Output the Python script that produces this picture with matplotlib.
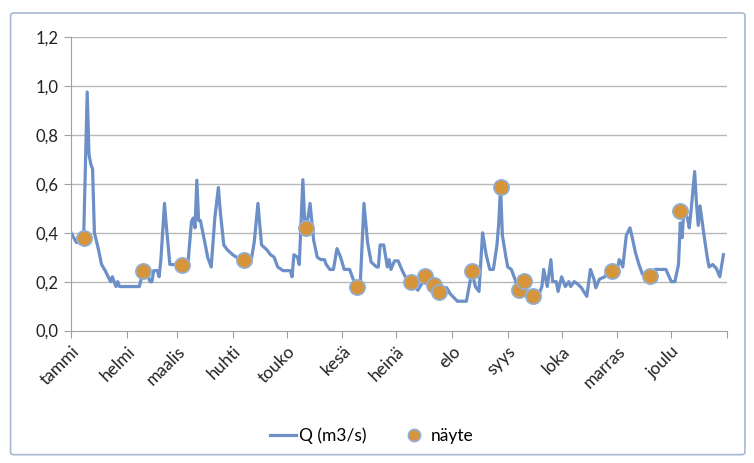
import matplotlib
matplotlib.use("Agg")
import matplotlib.pyplot as plt
from matplotlib.patches import FancyBboxPatch
from matplotlib.transforms import ScaledTranslation

plt.rcParams['font.family'] = ['Lato', 'DejaVu Sans']

# daily flow (day of year, m3/s)
q_day = [0, 3, 6, 7, 9, 10, 11, 12, 13, 15, 17, 19, 21, 22, 23, 24, 25, 26, 27, 38,
         40, 42, 44, 45, 46, 48, 49, 50, 52, 53, 55, 60, 62, 65, 67, 68, 69, 70, 71, 72,
         75, 76, 78, 80, 82, 83, 85, 87, 90, 92, 96, 100, 102, 104, 106, 109, 111, 113, 115, 118,
         122, 123, 124, 126, 127, 129, 130, 131, 133, 135, 137, 139, 141, 142, 144, 146, 148, 150, 152, 155,
         157, 159, 161, 163, 165, 167, 170, 171, 172, 174, 176, 177, 178, 180, 182, 184, 186, 189, 191, 193,
         195, 197, 199, 202, 205, 207, 209, 211, 213, 215, 220, 222, 223, 225, 227, 229, 231, 233, 235, 237,
         238, 239, 240, 242, 243, 245, 247, 249, 251, 252, 254, 257, 260, 262, 263, 265, 267, 268, 270, 271,
         273, 275, 277, 278, 280, 282, 284, 287, 289, 291, 292, 294, 297, 299, 301, 304, 305, 306, 307, 309,
         311, 312, 314, 316, 318, 322, 324, 325, 331, 334, 336, 338, 339, 340, 341, 343, 344, 345, 347, 348,
         349, 350, 352, 354, 355, 357, 359, 361, 363]
q_val = [0.40, 0.36, 0.365, 0.37, 0.975, 0.72, 0.68, 0.66, 0.40, 0.34, 0.27, 0.245, 0.215, 0.20, 0.22, 0.20, 0.18, 0.20, 0.18, 0.18,
         0.24, 0.24, 0.20, 0.20, 0.245, 0.245, 0.22, 0.29, 0.52, 0.43, 0.27, 0.27, 0.265, 0.27, 0.445, 0.46, 0.42, 0.615, 0.45, 0.45,
         0.34, 0.30, 0.26, 0.46, 0.585, 0.49, 0.35, 0.33, 0.31, 0.30, 0.285, 0.275, 0.365, 0.52, 0.35, 0.33, 0.31, 0.30, 0.26, 0.245,
         0.245, 0.22, 0.31, 0.30, 0.27, 0.617, 0.45, 0.42, 0.52, 0.37, 0.30, 0.29, 0.29, 0.27, 0.25, 0.25, 0.335, 0.30, 0.25, 0.25,
         0.21, 0.18, 0.20, 0.52, 0.36, 0.28, 0.26, 0.26, 0.35, 0.35, 0.26, 0.29, 0.25, 0.285, 0.285, 0.25, 0.22, 0.20, 0.18, 0.165,
         0.19, 0.22, 0.20, 0.185, 0.16, 0.175, 0.175, 0.15, 0.135, 0.12, 0.12, 0.20, 0.245, 0.18, 0.16, 0.40, 0.31, 0.25, 0.25, 0.35,
         0.44, 0.59, 0.39, 0.30, 0.26, 0.25, 0.21, 0.17, 0.17, 0.20, 0.16, 0.14, 0.14, 0.18, 0.25, 0.18, 0.29, 0.20, 0.20, 0.16,
         0.22, 0.18, 0.20, 0.18, 0.20, 0.19, 0.175, 0.14, 0.25, 0.21, 0.175, 0.21, 0.22, 0.24, 0.245, 0.25, 0.29, 0.28, 0.26, 0.39,
         0.42, 0.39, 0.32, 0.27, 0.23, 0.22, 0.23, 0.25, 0.25, 0.20, 0.20, 0.27, 0.44, 0.38, 0.49, 0.46, 0.42, 0.49, 0.65, 0.52,
         0.43, 0.51, 0.40, 0.30, 0.26, 0.27, 0.255, 0.22, 0.31]

# water samples
s_day = [7, 40, 62, 96, 131, 159, 189, 197, 202, 205, 223, 239, 249, 252, 257, 301, 322, 339]
s_val = [0.378, 0.244, 0.268, 0.289, 0.421, 0.18, 0.20, 0.225, 0.186, 0.159, 0.244, 0.589,
         0.166, 0.203, 0.141, 0.245, 0.223, 0.49]

month_start = [0, 31, 59, 90, 120, 151, 181, 212, 243, 273, 304, 334, 365]
month_names = ["tammi", "helmi", "maalis", "huhti", "touko", "kesä", "heinä",
               "elo", "syys", "loka", "marras", "joulu"]
y_ticks = [0.0, 0.2, 0.4, 0.6, 0.8, 1.0, 1.2]

fig = plt.figure(figsize=(7.54, 4.63), dpi=100)
ax = fig.add_axes([0.0942, 0.286, 0.870, 0.634])

grid_c = '#b8b8b8'
for y in y_ticks[1:]:
    ax.axhline(y, color=grid_c, lw=1.0, zorder=0)

ax.plot(q_day, q_val, color='#6b8fc6', lw=2.3, solid_joinstyle='round', label='Q (m3/s)', zorder=2)
ax.plot(s_day, s_val, ls='none', marker='o', ms=11, mfc='#d6953a', mec='#8fb0da', mew=1.2,
        label='näyte', zorder=3)

ax.set_xlim(0, 365)
ax.set_ylim(0, 1.2)
ax.set_yticks(y_ticks)
ax.set_yticklabels([f"{v:.1f}".replace('.', ',') for v in y_ticks], fontsize=12, color='#222222')
ax.set_xticks(month_start)
ax.set_xticklabels(month_names + [""], rotation=45, ha='right', va='top',
                   rotation_mode='anchor', fontsize=12.5, color='#222222')
offset = ScaledTranslation(10 / 72, 1 / 72, fig.dpi_scale_trans)
for lbl in ax.get_xticklabels():
    lbl.set_transform(lbl.get_transform() + offset)

for side in ['top', 'right']:
    ax.spines[side].set_visible(False)
for side in ['left', 'bottom']:
    ax.spines[side].set_color('#a0a0a0')
ax.tick_params(axis='both', direction='out', length=5, color='#a0a0a0', pad=4)

leg = ax.legend(loc='center', ncol=2, frameon=False, fontsize=12.5,
                handlelength=1.5, handletextpad=0.2, columnspacing=2.0, markerscale=0.8)
leg.set_bbox_to_anchor((0.493, 0.058), transform=fig.transFigure)

frame = FancyBboxPatch((0.014, 0.018), 0.974, 0.954, boxstyle='round,pad=0,rounding_size=0.005',
                       transform=fig.transFigure, fill=False, edgecolor='#a9b8cf', lw=1.2)
fig.patches.append(frame)

fig.savefig('out.png', dpi=100)
